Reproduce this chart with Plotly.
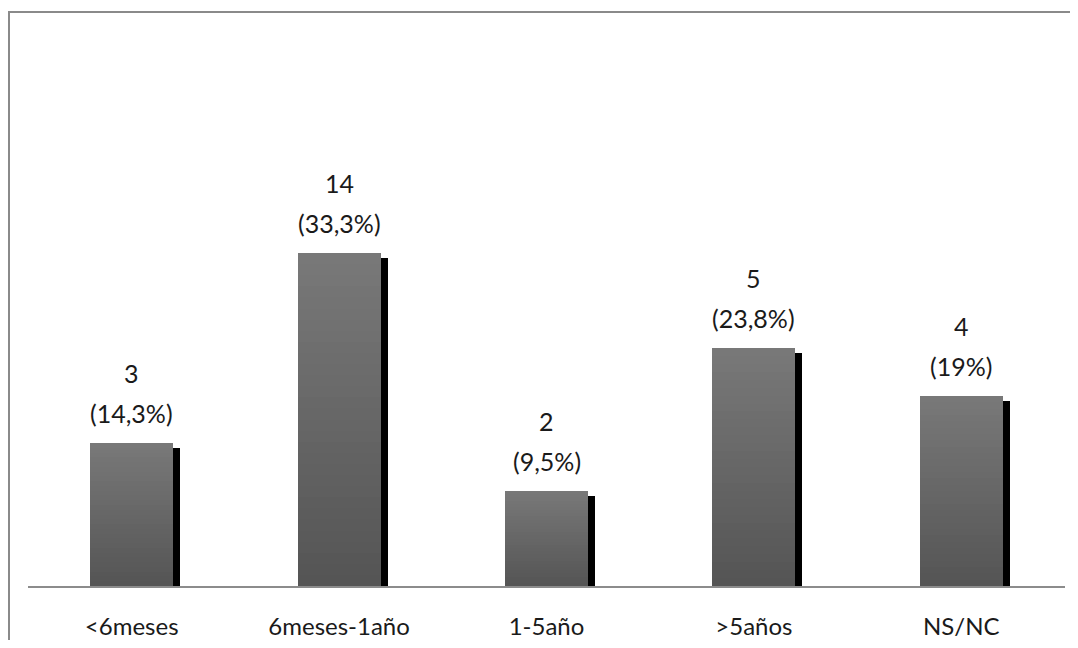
import plotly.graph_objects as go

categories = ["<6meses", "6meses-1año", "1-5año", ">5años", "NS/NC"]
counts = [3, 14, 2, 5, 4]
percents = [14.3, 33.3, 9.5, 23.8, 19]
pct_labels = ["(14,3%)", "(33,3%)", "(9,5%)", "(23,8%)", "(19%)"]

FONT = "Lato"
W, H = 1062, 632   # page adds 8px body margin on each side
L, R, T, B = 20, 5, 78, 54
PW = W - L - R
PH = H - T - B

fig = go.Figure()

# shadow bars (offset right, slightly lower)
fig.add_trace(go.Bar(
    x=categories, y=[p - 0.5 for p in percents],
    width=0.4, offset=-0.2 + 7 / (PW / 5),
    marker=dict(color="#000000", line=dict(width=0)),
    hoverinfo="skip", showlegend=False,
))

# gradient bars: layered from full height (lighter) to short (darker)
n = 30
top_c = (0x78, 0x78, 0x78)
bot_c = (0x55, 0x55, 0x55)
for i in range(n):
    f = 1 - i / n
    t = i / (n - 1)
    c = tuple(round(top_c[k] + (bot_c[k] - top_c[k]) * t) for k in range(3))
    fig.add_trace(go.Bar(
        x=categories, y=[p * f for p in percents],
        width=0.4, offset=-0.2,
        marker=dict(color="rgb(%d,%d,%d)" % c, line=dict(width=0)),
        hoverinfo="skip", showlegend=False,
    ))

for cat, cnt, p, lab in zip(categories, counts, percents, pct_labels):
    fig.add_annotation(x=cat, y=p, text=str(cnt), showarrow=False,
                       yanchor="middle", yshift=70,
                       font=dict(family=FONT, size=25, color="#1a1a1a"))
    fig.add_annotation(x=cat, y=p, text=lab, showarrow=False,
                       yanchor="middle", yshift=30,
                       font=dict(family=FONT, size=25, color="#1a1a1a"))

# outer frame (left and top edges visible; right/bottom fall outside the view)
fig.add_shape(type="rect", xref="paper", yref="paper",
              x0=(1 - L) / PW, x1=1.2, y0=-0.3, y1=(PH + T - 4) / PH,
              line=dict(color="#8a8a8a", width=2), fillcolor="rgba(0,0,0,0)", layer="below")

fig.update_layout(
    width=W, height=H,
    margin=dict(l=L, r=R, t=T, b=B),
    paper_bgcolor="white", plot_bgcolor="white",
    barmode="overlay", bargap=0,
    font=dict(family=FONT, size=24, color="#1a1a1a"),
    xaxis=dict(showline=True, linecolor="#8c8c8c", linewidth=1.5,
               ticks="outside", ticklen=18, tickcolor="rgba(0,0,0,0)",
               tickfont=dict(family=FONT, size=24, color="#1a1a1a"),
               showgrid=False, zeroline=False, automargin=False),
    yaxis=dict(range=[0, 50], visible=False, showgrid=False, zeroline=False),
)

fig.write_html("out.html")
